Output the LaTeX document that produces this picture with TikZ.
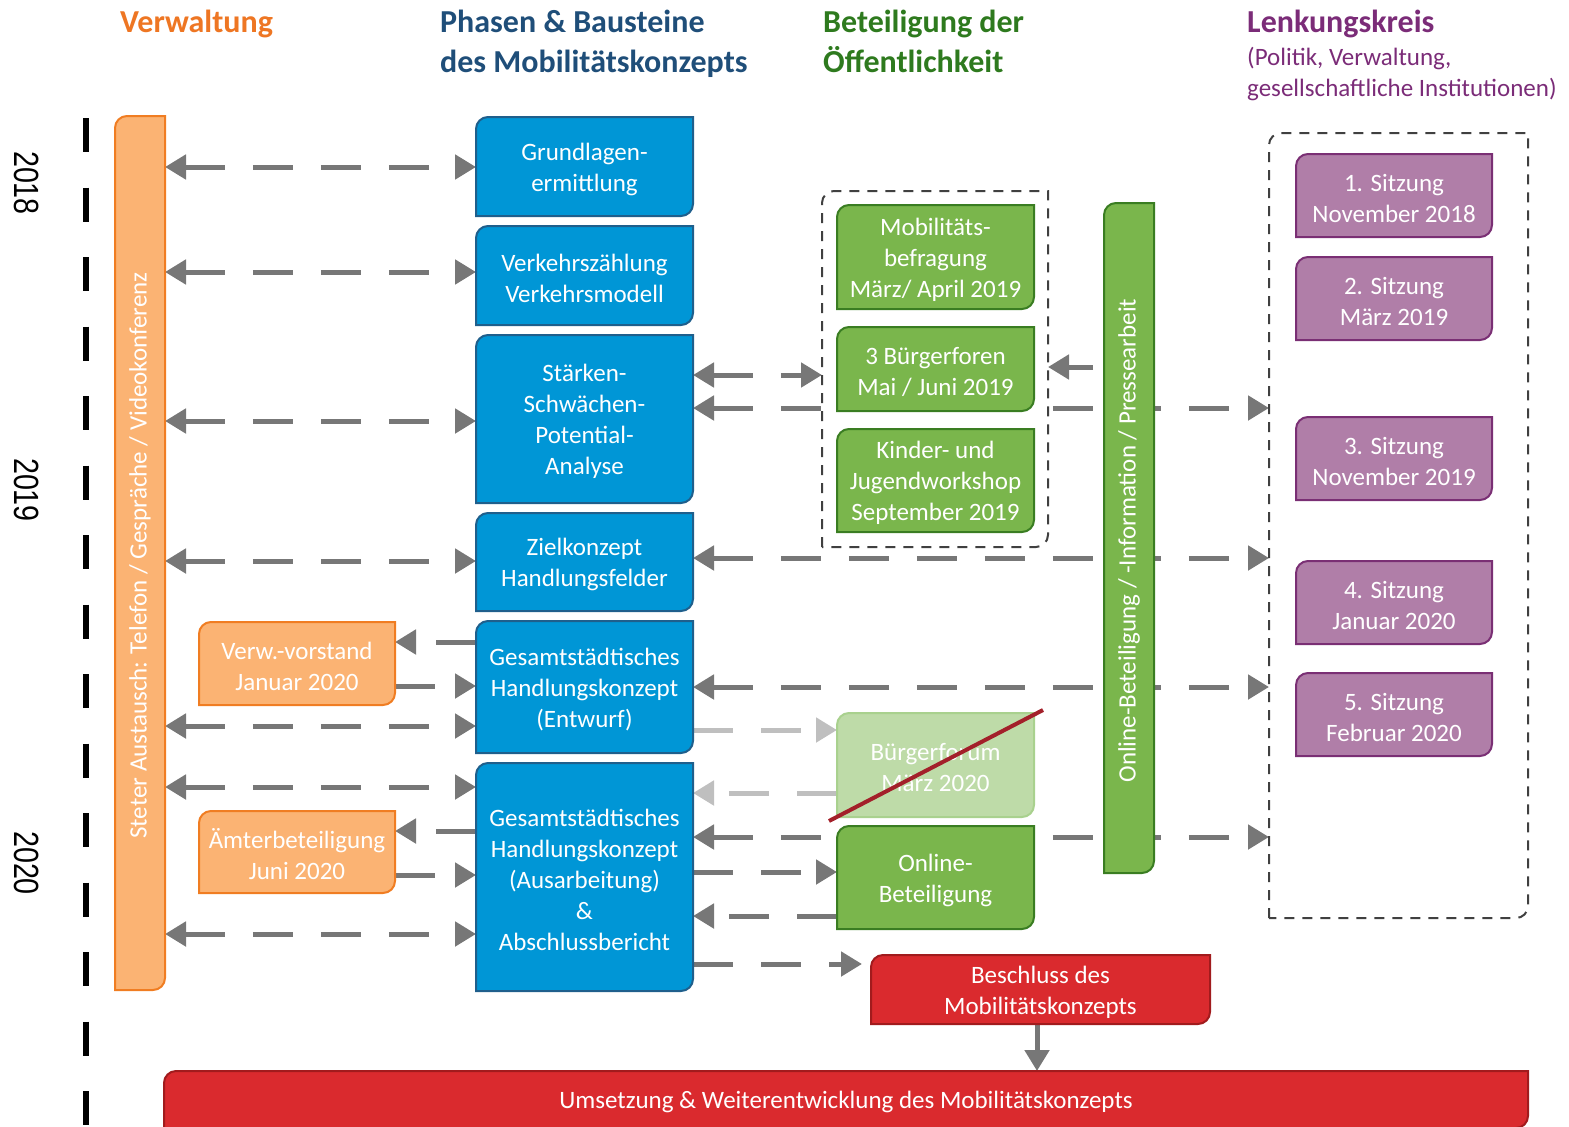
\documentclass[tikz,border=0pt]{standalone}
\usepackage{fontspec}
\setmainfont{Carlito}
\newfontfamily\yearfam{Liberation Sans}
\usetikzlibrary{arrows.meta,calc}
\pgfdeclarelayer{bg}
\pgfdeclarelayer{shapes}
\pgfsetlayers{bg,shapes,main}
\definecolor{ofill}{HTML}{FBB373}
\definecolor{oline}{HTML}{F07D22}
\definecolor{ohead}{HTML}{EE7623}
\definecolor{bfill}{HTML}{0096D6}
\definecolor{bline}{HTML}{1F5F8C}
\definecolor{bhead}{HTML}{1F4E79}
\definecolor{gfill}{HTML}{7AB64C}
\definecolor{gline}{HTML}{3A7D22}
\definecolor{ghead}{HTML}{2E7A1E}
\definecolor{gfade}{HTML}{BEDBA8}
\definecolor{gfadeline}{HTML}{A9D18E}
\definecolor{pfill}{HTML}{B07EA8}
\definecolor{pline}{HTML}{7A2F74}
\definecolor{phead}{HTML}{7B2C78}
\definecolor{rfill}{HTML}{DA2A2E}
\definecolor{rline}{HTML}{A11B1D}
\definecolor{arr}{HTML}{777777}
\definecolor{arrlight}{HTML}{BFBFBF}
\definecolor{cont}{HTML}{404040}
\definecolor{strikec}{HTML}{A3202A}
\def\rr{12}
\def\rc{5.4}
% #1 node options, #2 name, #3 x1, #4 y1, #5 x2, #6 y2, #7 shape style, #8 text
\newcommand\mybox[8][]{%
  \node[boxtext,minimum width=#5-#3,minimum height=#6-#4,#1] (#2) at ({(#3+#5)/2},{(#4+#6)/2+2.5}) {#8};
  \begin{pgfonlayer}{shapes}
  \draw[#7] (#3,#6) -- (#3,#4+\rr) .. controls (#3,#4+\rc) and (#3+\rc,#4) .. (#3+\rr,#4) -- (#5,#4) -- (#5,#6-\rr) .. controls (#5,#6-\rc) and (#5-\rc,#6) .. (#5-\rr,#6) -- cycle;
  \end{pgfonlayer}}
\begin{document}
\begin{tikzpicture}[x=1pt,y=-1pt,
  boxtext/.style={text=white,align=center,inner sep=0pt,outer sep=0pt,font=\fontsize{25}{31}\selectfont},
  obox/.style={fill=ofill,draw=oline,line width=2},
  bbox/.style={fill=bfill,draw=bline,line width=2},
  gbox/.style={fill=gfill,draw=gline,line width=2},
  gfbox/.style={fill=gfade,draw=gfadeline,line width=2},
  pbox/.style={fill=pfill,draw=pline,line width=2},
  rbox/.style={fill=rfill,draw=rline,line width=2},
  contbox/.style={draw=cont,line width=2,dash pattern=on 10pt off 8pt},
  head/.style={anchor=base west,inner sep=0pt,font=\fontsize{32}{40}\selectfont\bfseries},
  sub/.style={anchor=base west,inner sep=0pt,font=\fontsize{25}{31}\selectfont,text=phead},
  year/.style={rotate=-90,inner sep=0pt,font=\yearfam\fontsize{35}{35}\selectfont},
  ar/.style={draw=arr,line width=5,dash pattern=on 40pt off 28pt,-{Triangle[length=21pt,width=24pt]}},
  arb/.style={ar,{Triangle[length=21pt,width=24pt]}-{Triangle[length=21pt,width=24pt]}},
  ars/.style={draw=arr,line width=5,-{Triangle[length=21pt,width=24pt]}}]
\useasboundingbox (0,0) rectangle (1569,1127);

% headings
\node[head,text=ohead] (hv) at (120,32) {Verwaltung};
\node[head,text=bhead] (hp1) at (440,32) {Phasen \& Bausteine};
\node[head,text=bhead] (hp2) at (440,72) {des Mobilitätskonzepts};
\node[head,text=ghead] (hb1) at (823,32) {Beteiligung der};
\node[head,text=ghead] (hb2) at (823,72) {Öffentlichkeit};
\node[head,text=phead] (hl) at (1247,32) {Lenkungskreis};
\node[sub] (hl2) at (1247,65) {(Politik, Verwaltung,};
\node[sub] (hl3) at (1247,96) {gesellschaftliche Institutionen)};

% timeline
\draw[line width=6,dash pattern=on 34pt off 35.5pt] (86,118) -- (86,1140);
\node[year] (y18) at (27,183) {\scalebox{0.82}[1]{2018}};
\node[year] (y19) at (27,490) {\scalebox{0.82}[1]{2019}};
\node[year] (y20) at (27,863) {\scalebox{0.82}[1]{2020}};

% containers
\mybox{gc}{822}{191}{1048}{547}{contbox}{}
\mybox{pc}{1269}{133}{1528}{918}{contbox}{}

% orange
\mybox{ob}{115}{116}{165}{990}{obox}{\rotatebox{90}{Steter Austausch: Telefon / Gespräche / Videokonferenz}}
\mybox{ov}{199}{622}{395}{705}{obox}{Verw.-vorstand\\Januar 2020}
\mybox{oa}{199}{811}{395}{893}{obox}{Ämterbeteiligung\\Juni 2020}

% blue
\mybox{b1}{476}{117}{693}{216}{bbox}{Grundlagen-\\ermittlung}
\mybox{b2}{476}{226}{693}{325}{bbox}{Verkehrszählung\\Verkehrsmodell}
\mybox{b3}{476}{335}{693}{503}{bbox}{Stärken-\\Schwächen-\\Potential-\\Analyse}
\mybox{b4}{476}{513}{693}{611}{bbox}{Zielkonzept\\Handlungsfelder}
\mybox{b5}{476}{621}{693}{753}{bbox}{Gesamtstädtisches\\Handlungskonzept\\(Entwurf)}
\mybox{b6}{476}{763}{693}{991}{bbox}{Gesamtstädtisches\\Handlungskonzept\\(Ausarbeitung)\\\&\\Abschlussbericht}

% green
\mybox{g1}{837}{205}{1034}{309}{gbox}{Mobilitäts-\\befragung\\März/ April 2019}
\mybox{g2}{837}{327}{1034}{411}{gbox}{3 Bürgerforen\\Mai / Juni 2019}
\mybox{g3}{837}{429}{1034}{532}{gbox}{Kinder- und\\Jugendworkshop\\September 2019}
\mybox{g4}{837}{713}{1034}{817}{gfbox}{Bürgerforum\\März 2020}
\mybox{g5}{837}{826}{1034}{929}{gbox}{Online-\\Beteiligung}
\mybox{gbar}{1104}{203}{1154}{873}{gbox}{\rotatebox{90}{Online-Beteiligung / -Information / Pressearbeit}}

% purple
\mybox{p1}{1296}{154}{1492}{237}{pbox}{1. Sitzung\\November 2018}
\mybox{p2}{1296}{257}{1492}{340}{pbox}{2. Sitzung\\März 2019}
\mybox{p3}{1296}{417}{1492}{500}{pbox}{3. Sitzung\\November 2019}
\mybox{p4}{1296}{561}{1492}{644}{pbox}{4. Sitzung\\Januar 2020}
\mybox{p5}{1296}{673}{1492}{756}{pbox}{5. Sitzung\\Februar 2020}

% red
\mybox{rb}{871}{955}{1210}{1024}{rbox}{Beschluss des\\Mobilitätskonzepts}
\mybox{ru}{164}{1071}{1528}{1128}{rbox}{Umsetzung \& Weiterentwicklung des Mobilitätskonzepts}

% strike-through of cancelled forum
\draw[strikec,line width=4] (829,821) -- (1043,710);

% connectors
\begin{pgfonlayer}{bg}
\foreach \n/\y in {b1/167,b2/272,b3/421,b4/561,b5/726,b6/787,b6/934}
  \draw[arb] (ob.east |- 0,\y) -- (\n.west |- 0,\y);
\draw[arb] (b3.east |- 0,375) -- (gc.west |- 0,375);
\foreach \n/\y in {b3/408,b4/558,b5/687,b6/837}
  \draw[arb] (\n.east |- 0,\y) -- (pc.west |- 0,\y);
\draw[ar] (b5.west |- 0,642) -- (ov.east |- 0,642);
\draw[ar] (ov.east |- 0,686) -- (b5.west |- 0,686);
\draw[ar] (b6.west |- 0,831) -- (oa.east |- 0,831);
\draw[ar] (oa.east |- 0,875) -- (b6.west |- 0,875);
\draw[ar,draw=arrlight] (b5.east |- 0,730) -- (g4.west |- 0,730);
\draw[ar,draw=arrlight] (g4.west |- 0,793) -- (b6.east |- 0,793);
\draw[ar] (b6.east |- 0,872) -- (g5.west |- 0,872);
\draw[ar] (g5.west |- 0,916) -- (b6.east |- 0,916);
\draw[ar,shorten >=9pt] (b6.east |- 0,964) -- (rb.west |- 0,964);
\draw[ars,shorten <=11pt] (gbar.west |- 0,367) -- (gc.east |- 0,367);
\draw[ars,shorten <=-2.5pt,shorten >=2.5pt] (rb.south -| 1037,0) -- (ru.north -| 1037,0);
\end{pgfonlayer}
\end{tikzpicture}
\end{document}
